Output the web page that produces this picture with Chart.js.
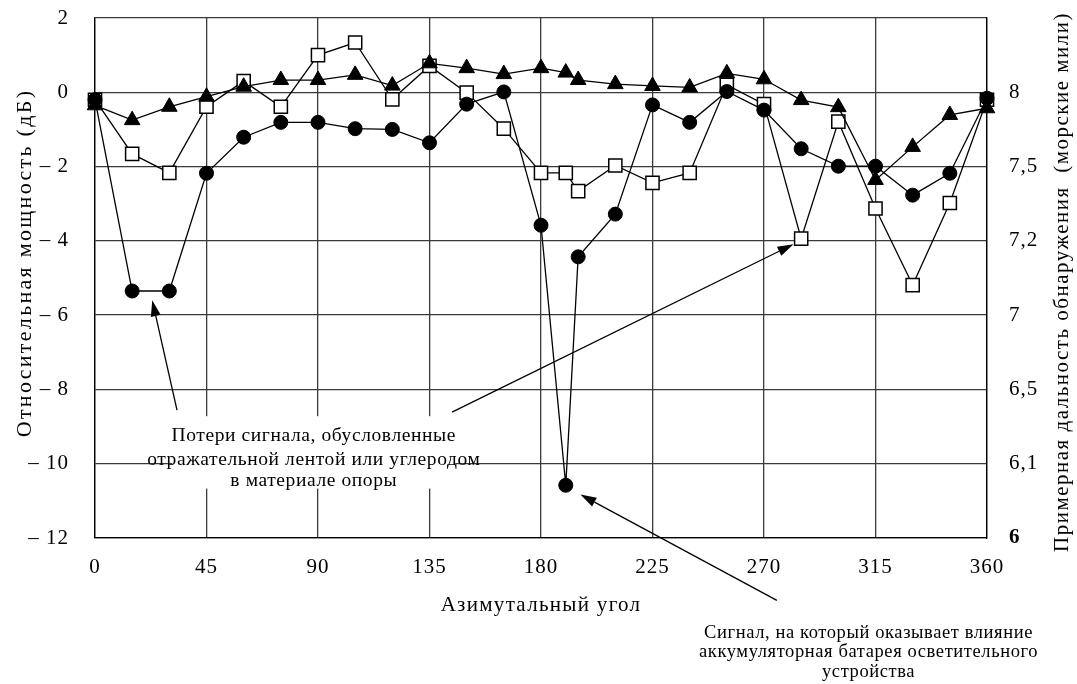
<!DOCTYPE html>
<html><head><meta charset="utf-8">
<script src="https://cdn.jsdelivr.net/npm/chart.js@4.4.1/dist/chart.umd.min.js"></script>
<style>html,body{margin:0;padding:0;background:#fff;} canvas{display:block;}</style>
</head><body>
<canvas id="c" width="1077" height="684"></canvas>
<script>
// ---- data ----
const angles = [0,15,30,45,60,75,90,105,120,135,150,165,180,190,195,210,225,240,255,270,285,300,315,330,345,360];
const circleSeries   = [-0.2,-5.35,-5.35,-2.18,-1.21,-0.81,-0.81,-0.98,-1.0,-1.36,-0.32,0.01,-3.58,-10.58,-4.43,-3.28,-0.34,-0.81,0.02,-0.48,-1.52,-1.99,-1.99,-2.77,-2.18,-0.16];
const squareSeries   = [-0.2,-1.66,-2.17,-0.39,0.30,-0.39,1.0,1.34,-0.19,0.71,-0.01,-0.98,-2.17,-2.17,-2.66,-1.97,-2.44,-2.17,0.20,-0.32,-3.94,-0.79,-3.13,-5.19,-2.98,-0.2];
const triangleSeries = [-0.35,-0.75,-0.39,-0.12,0.15,0.33,0.33,0.47,0.18,0.78,0.65,0.49,0.65,0.53,0.33,0.22,0.17,0.13,0.51,0.35,-0.21,-0.40,-2.36,-1.47,-0.61,-0.43];
const xTickValues = [0,45,90,135,180,225,270,315,360];
const leftTickValues = [2,0,-2,-4,-6,-8,-10,-12];
const rightTickLabels = {"2":"", "0":"8", "-2":"7,5", "-4":"7,2", "-6":"7", "-8":"6,5", "-10":"6,1", "-12":"6"};
const xTitle = "Азимутальный угол";
const yTitle = "Относительная мощность (дБ)";
const y2Title = "Примерная дальность обнаружения  (морские мили)";
const note1Lines = ["Потери сигнала, обусловленные", "отражательной лентой или углеродом", "в материале опоры"];
const note2Lines = ["Сигнал, на который оказывает влияние", "аккумуляторная батарея осветительного", "устройства"];
// annotation anchors in data units (angle, dB)
const note1Pos = {x: 88.3, y: [-9.39, -10.03, -10.60]};
const note1Box = {x0: 31.2, x1: 145.4, y0: -8.72, y1: -10.67};
const note2Pos = {x: 312.2, y: [-14.68, -15.21, -15.73]};
const arrows = [
  {from: [33.1, -8.56], to: [23.1, -5.60]},
  {from: [144.1, -8.61], to: [281.9, -4.09]},
  {from: [275.2, -13.68], to: [195.9, -10.83]}
];

const SERIF = '"Liberation Serif", "Times New Roman", serif';
const toXY = (ys) => angles.map((a, i) => ({x: a, y: ys[i]}));

const notesPlugin = {
  id: 'notes',
  beforeDraw(chart) {
    chart.ctx.letterSpacing = '1px';
  },
  beforeDatasetsDraw(chart) {
    const {ctx, scales: {x, y}} = chart;
    ctx.save();
    ctx.fillStyle = '#fff';
    const x0 = x.getPixelForValue(note1Box.x0), x1 = x.getPixelForValue(note1Box.x1);
    const y0 = y.getPixelForValue(note1Box.y0), y1 = y.getPixelForValue(note1Box.y1);
    ctx.fillRect(x0, y0, x1 - x0, y1 - y0);
    ctx.restore();
  },
  afterDraw(chart) {
    const {ctx, scales: {x, y}} = chart;
    ctx.save();
    ctx.fillStyle = '#000';
    ctx.strokeStyle = '#000';
    // axis titles
    ctx.textAlign = 'center';
    ctx.textBaseline = 'alphabetic';
    ctx.font = '21px ' + SERIF;
    ctx.letterSpacing = '1.3px';
    ctx.fillText(xTitle, (x.left + x.right) / 2, 611);
    ctx.save();
    ctx.font = '22px ' + SERIF;
    ctx.letterSpacing = '2.3px';
    ctx.translate(25, 263);
    ctx.rotate(-Math.PI / 2);
    ctx.textBaseline = 'middle';
    ctx.fillText(yTitle, 0, 0);
    ctx.restore();
    ctx.save();
    ctx.font = '21px ' + SERIF;
    ctx.letterSpacing = '1.5px';
    ctx.translate(1062, 282);
    ctx.rotate(-Math.PI / 2);
    ctx.textBaseline = 'middle';
    ctx.fillText(y2Title, 0, 0);
    ctx.restore();
    // notes
    ctx.font = '19.5px ' + SERIF;
    ctx.letterSpacing = '0.6px';
    note1Lines.forEach((t, i) => ctx.fillText(t, x.getPixelForValue(note1Pos.x), y.getPixelForValue(note1Pos.y[i])));
    ctx.font = '18.5px ' + SERIF;
    ctx.letterSpacing = '0.6px';
    note2Lines.forEach((t, i) => ctx.fillText(t, x.getPixelForValue(note2Pos.x), y.getPixelForValue(note2Pos.y[i])));
    // arrows
    ctx.lineWidth = 1.3;
    arrows.forEach(a => {
      const fx = x.getPixelForValue(a.from[0]), fy = y.getPixelForValue(a.from[1]);
      const tx = x.getPixelForValue(a.to[0]), ty = y.getPixelForValue(a.to[1]);
      const ang = Math.atan2(ty - fy, tx - fx);
      const L = 16, W = 5;
      const bx = tx - L * Math.cos(ang), by = ty - L * Math.sin(ang);
      ctx.beginPath();
      ctx.moveTo(fx, fy);
      ctx.lineTo(bx, by);
      ctx.stroke();
      ctx.beginPath();
      ctx.moveTo(tx, ty);
      ctx.lineTo(bx + W * Math.sin(ang), by - W * Math.cos(ang));
      ctx.lineTo(bx - W * Math.sin(ang), by + W * Math.cos(ang));
      ctx.closePath();
      ctx.fill();
    });
    ctx.restore();
  }
};

new Chart(document.getElementById('c'), {
  type: 'line',
  data: {
    datasets: [
      {label: 'triangles', data: toXY(triangleSeries), borderColor: '#000', borderWidth: 1.3,
       pointStyle: 'triangle', pointRadius: 9, pointBackgroundColor: '#000', pointBorderColor: '#000', pointBorderWidth: 1},
      {label: 'circles', data: toXY(circleSeries), borderColor: '#000', borderWidth: 1.3,
       pointStyle: 'circle', pointRadius: 7, pointBackgroundColor: '#000', pointBorderColor: '#000', pointBorderWidth: 1},
      {label: 'squares', data: toXY(squareSeries), borderColor: '#000', borderWidth: 1.3,
       pointStyle: 'rect', pointRadius: 9.3, pointBackgroundColor: '#fff', pointBorderColor: '#000', pointBorderWidth: 1.5}
    ]
  },
  options: {
    responsive: false,
    animation: false,
    devicePixelRatio: 1,
    clip: false,
    layout: {padding: {top: 18, left: 0, right: 0, bottom: 0}},
    plugins: {legend: {display: false}, tooltip: {enabled: false}},
    elements: {line: {tension: 0, fill: false}},
    scales: {
      x: {
        type: 'linear', min: 0, max: 360,
        afterBuildTicks: (s) => { s.ticks = xTickValues.map(v => ({value: v})); },
        ticks: {color: '#000', font: {family: SERIF, size: 21}, padding: 17, maxRotation: 0, autoSkip: false},
        grid: {color: '#3a3a3a', lineWidth: 1.3, drawTicks: false},
        border: {color: '#000', width: 1.3},
        afterFit: (s) => { s.height = 146; }
      },
      y: {
        position: 'left', min: -12, max: 2,
        afterBuildTicks: (s) => { s.ticks = leftTickValues.map(v => ({value: v})); },
        ticks: {color: '#000', font: {family: SERIF, size: 21}, padding: 26,
                callback: (v) => v < 0 ? '– ' + Math.abs(v) : String(v)},
        grid: {color: '#3a3a3a', lineWidth: 1.3, drawTicks: false},
        border: {color: '#000', width: 1.3},
        afterFit: (s) => { s.width = 95; s.paddingTop = 0; s.paddingBottom = 0; }
      },
      y2: {
        position: 'right', min: -12, max: 2,
        afterBuildTicks: (s) => { s.ticks = leftTickValues.map(v => ({value: v})); },
        ticks: {color: '#000', padding: 22,
                font: (c) => ({family: SERIF, size: 21, weight: c.tick && c.tick.value === -12 ? 'bold' : 'normal'}),
                callback: (v) => rightTickLabels[String(v)]},
        grid: {display: false, drawTicks: false},
        border: {color: '#000', width: 1.3},
        afterFit: (s) => { s.width = 90; s.paddingTop = 0; s.paddingBottom = 0; }
      }
    }
  },
  plugins: [notesPlugin]
});
</script>
</body></html>
